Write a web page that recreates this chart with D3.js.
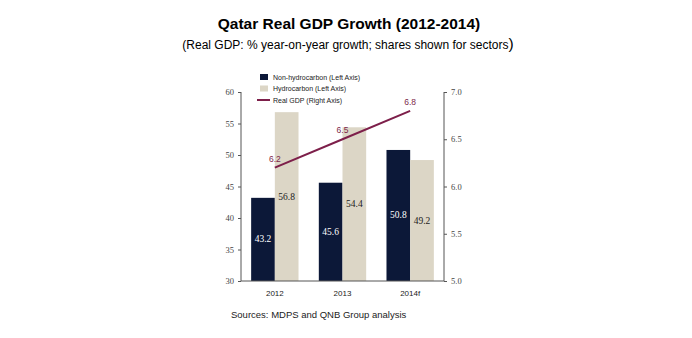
<html lang="en">
  <head>
    <meta charset="UTF-8" />
    <style>
      body { margin: 0; background: #fff; }
      svg { display: block; font-family: "Liberation Sans", Arial, sans-serif; }
    </style>
    <title>Qatar Real GDP Growth</title>
  </head>
  <body>
    <script src="https://cdn.jsdelivr.net/npm/d3@7"></script>
    <script>
      const years = ["2012", "2013", "2014f"];
      const nonHydro = [43.2, 45.6, 50.8];
      const hydro = [56.8, 54.4, 49.2];
      const realGdp = [6.2, 6.5, 6.8];
      const leftTicks = [30, 35, 40, 45, 50, 55, 60];
      const rightTicks = [5.0, 5.5, 6.0, 6.5, 7.0];

      const width = 692, height = 338;
      const plotL = 241, plotR = 444, plotT = 92, plotB = 281;
      const navy = "#0c1838", beige = "#dcd6c6", maroon = "#7d1f4a", axisCol = "#555";

      const svg = d3.select("body").append("svg")
        .attr("width", width).attr("height", height);

      const x = d3.scaleBand().domain(years).range([plotL, plotR]).paddingInner(0.3).paddingOuter(0.15);
      const yL = d3.scaleLinear().domain([30, 60]).range([plotB, plotT]);
      const yR = d3.scaleLinear().domain([5, 7]).range([plotB, plotT]);
      const bw = x.bandwidth() / 2;

      // titles
      svg.append("text").attr("x", 349).attr("y", 29).attr("text-anchor", "middle")
        .style("font-size", "15.5px").style("font-weight", "bold").text("Qatar Real GDP Growth (2012-2014)");
      const sub = svg.append("text").attr("x", 348).attr("y", 49).attr("text-anchor", "middle")
        .style("font-size", "12px");
      sub.append("tspan").text("(Real GDP: % year-on-year growth; shares shown for sectors");
      sub.append("tspan").style("font-size", "15.5px").text(")");

      // bars
      const groups = years.map((y, i) => ({ y, nh: nonHydro[i], h: hydro[i], g: realGdp[i] }));
      svg.selectAll(".nh").data(groups).enter().append("rect")
        .attr("x", d => x(d.y)).attr("y", d => yL(d.nh))
        .attr("width", bw).attr("height", d => plotB - yL(d.nh)).attr("fill", navy);
      svg.selectAll(".h").data(groups).enter().append("rect")
        .attr("x", d => x(d.y) + bw).attr("y", d => yL(d.h))
        .attr("width", bw).attr("height", d => plotB - yL(d.h)).attr("fill", beige);

      // bar labels
      svg.selectAll(".nhl").data(groups).enter().append("text")
        .attr("x", d => x(d.y) + bw / 2).attr("y", d => (yL(d.nh) + plotB) / 2 + 3)
        .attr("text-anchor", "middle").attr("fill", "#fff")
        .style("font-family", "Liberation Serif, serif").style("font-size", "9.5px").text(d => d.nh.toFixed(1));
      svg.selectAll(".hl").data(groups).enter().append("text")
        .attr("x", d => x(d.y) + bw * 1.5).attr("y", d => (yL(d.h) + plotB) / 2 + 3)
        .attr("text-anchor", "middle").attr("fill", "#222")
        .style("font-family", "Liberation Serif, serif").style("font-size", "9.5px").text(d => d.h.toFixed(1));

      // axes
      const axL = svg.append("g").attr("transform", `translate(${plotL},0)`)
        .call(d3.axisLeft(yL).tickValues(leftTicks).tickSize(3).tickPadding(4));
      const axR = svg.append("g").attr("transform", `translate(${plotR},0)`)
        .call(d3.axisRight(yR).tickValues(rightTicks).tickSize(3).tickPadding(4).tickFormat(d3.format(".1f")));
      [axL, axR].forEach(a => {
        a.select(".domain").attr("stroke", axisCol).attr("d", `M0,${plotT}V${plotB}`);
        a.selectAll("line").attr("stroke", axisCol);
        a.selectAll("text").attr("fill", "#444").style("font-family", "Liberation Serif, serif").style("font-size", "8.5px");
      });
      const axB = svg.append("g").attr("transform", `translate(0,${plotB})`)
        .call(d3.axisBottom(x).tickSize(0).tickPadding(9));
      axB.select(".domain").attr("stroke", axisCol).attr("d", `M${plotL},0H${plotR}`);
      axB.selectAll("text").attr("fill", "#222").style("font-family", "Liberation Sans, Arial, sans-serif").style("font-size", "8px");

      // line
      const cx = d => x(d.y) + bw;
      svg.append("path").datum(groups)
        .attr("d", d3.line().x(cx).y(d => yR(d.g)))
        .attr("fill", "none").attr("stroke", maroon).attr("stroke-width", 2);
      svg.selectAll(".gl").data(groups).enter().append("text")
        .attr("x", cx).attr("y", d => yR(d.g) - 6).attr("text-anchor", "middle")
        .attr("fill", maroon).style("font-size", "8.5px").text(d => d.g.toFixed(1));

      // legend
      const legend = svg.append("g").style("font-size", "7px");
      const items = [
        { label: "Non-hydrocarbon (Left Axis)", color: navy, type: "box" },
        { label: "Hydrocarbon (Left Axis)", color: beige, type: "box" },
        { label: "Real GDP (Right Axis)", color: maroon, type: "line" }
      ];
      items.forEach((it, i) => {
        const ly = 77 + i * 11.5;
        if (it.type === "box") {
          legend.append("rect").attr("x", 260).attr("y", ly - 3).attr("width", 8).attr("height", 6).attr("fill", it.color);
        } else {
          legend.append("line").attr("x1", 257).attr("x2", 270).attr("y1", ly).attr("y2", ly)
            .attr("stroke", it.color).attr("stroke-width", 2);
        }
        legend.append("text").attr("x", 273).attr("y", ly + 2.5).attr("fill", "#222").text(it.label);
      });

      // source
      svg.append("text").attr("x", 231).attr("y", 318).style("font-size", "9.5px").attr("fill", "#222")
        .text("Sources: MDPS and QNB Group analysis");
    </script>
  </body>
</html>
